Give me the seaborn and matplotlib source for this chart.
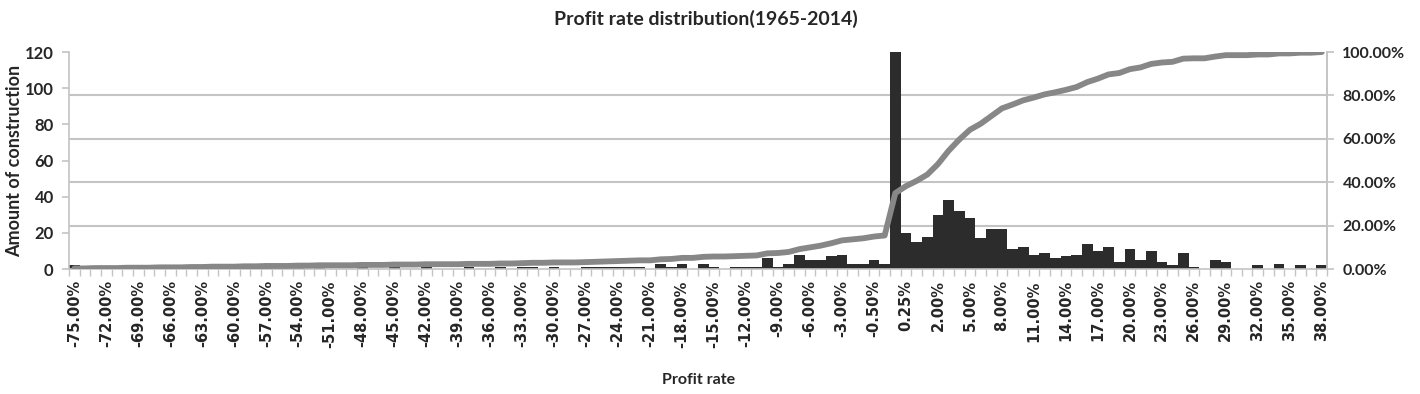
import numpy as np
import matplotlib
matplotlib.use("Agg")
import matplotlib.pyplot as plt
from matplotlib.ticker import FixedLocator, FuncFormatter
import seaborn as sns

# profit rate buckets (-75% .. 38%)
rates = list(range(-75, 0)) + [-0.5, -0.25, 0, 0.25, 0.5, 1] + list(range(2, 39))
categories = [f"{r:.2f}%" for r in rates]

# amount of construction in each bucket (0.00% bucket is cut off at 120)
counts = [
    2, 0, 1, 0, 0, 1, 0, 0, 1, 0,
    0, 1, 0, 1, 0, 0, 1, 0, 1, 0,
    0, 1, 0, 1, 0, 0, 0, 1, 0, 0,
    1, 0, 0, 1, 0, 0, 0, 1, 0, 0,
    1, 0, 1, 1, 0, 1, 0, 0, 1, 1,
    1, 1, 1, 1, 0, 3, 1, 3, 0, 3,
    1, 0, 1, 1, 1, 6, 1, 3, 8, 5,
    5, 7, 8, 3, 3, 5, 3, 121, 20, 15,
    18, 30, 38, 32, 28, 17, 22, 22, 11, 12,
    8, 9, 6, 7, 8, 14, 10, 12, 4, 11,
    5, 10, 4, 2, 9, 1, 0, 5, 4, 0,
    0, 2, 0, 3, 0, 2, 0, 2,
]
left_ticks = [0, 20, 40, 60, 80, 100, 120]
right_ticks = [0, 20, 40, 60, 80, 100]

cum_pct = np.cumsum(counts) / np.sum(counts) * 100

sns.set_style("white")
plt.rcParams["font.family"] = ["Lato", "DejaVu Sans"]
grid_col = "#c4c4c4"

fig = plt.figure(figsize=(14.2, 3.94), dpi=100)
ax = fig.add_axes([0.0486, 0.317, 0.886, 0.551])

sns.barplot(x=categories, y=counts, color="#2c2c2c", width=1.0, saturation=1,
            linewidth=0, ax=ax)
ax.set_ylim(0, 120)
ax.set_xlim(-0.5, len(categories) - 0.5)

# gridlines follow the percentage axis
ax.set_yticks([120 * p / 100 for p in right_ticks], minor=True)
ax.yaxis.grid(True, which="minor", color=grid_col, lw=1.5)
ax.tick_params(axis="y", which="minor", length=0)
ax.set_axisbelow(True)

ax.set_yticks(left_ticks)
ax.set_yticklabels([str(t) for t in left_ticks], fontsize=12, fontweight="bold")
ax.tick_params(axis="y", which="major", length=5, color=grid_col, width=1.2, pad=6)

ax.xaxis.set_major_locator(FixedLocator(list(range(0, len(categories), 3))))
ax.set_xticklabels(categories[::3], rotation=90, fontsize=10.5, fontweight="bold",
                   family="DejaVu Sans")
ax.xaxis.set_minor_locator(FixedLocator(list(np.arange(-0.5, len(categories), 1.0))))
ax.tick_params(axis="x", which="major", length=0, pad=8)
ax.tick_params(axis="x", which="minor", length=5, color=grid_col, width=1, bottom=True)

ax.spines["top"].set_visible(False)
for s in ["left", "right", "bottom"]:
    ax.spines[s].set_color(grid_col)
    ax.spines[s].set_linewidth(1.2)

ax.set_ylabel("Amount of construction", fontsize=13, fontweight="bold", labelpad=1)
ax.set_xlabel("Profit rate", fontsize=11.5, fontweight="bold", labelpad=18)

ax2 = ax.twinx()
sns.lineplot(x=np.arange(len(categories)), y=cum_pct, ax=ax2, color="#878787", lw=4.2)
ax2.set_ylim(0, 100)
ax2.set_yticks(right_ticks)
ax2.yaxis.set_major_formatter(FuncFormatter(lambda v, p: f"{v:.2f}%"))
for lab in ax2.get_yticklabels():
    lab.set_fontsize(11.5)
    lab.set_fontweight("bold")
ax2.tick_params(axis="y", length=5, color=grid_col, width=1.2, pad=6)
ax2.set_ylabel("")
for s in ["top", "left", "bottom"]:
    ax2.spines[s].set_visible(False)
ax2.spines["right"].set_color(grid_col)
ax2.spines["right"].set_linewidth(1.2)

fig.suptitle("Profit rate distribution(1965-2014)", x=0.497, y=0.975,
             fontsize=14, fontweight="bold")

fig.savefig("out.png", dpi=100)
